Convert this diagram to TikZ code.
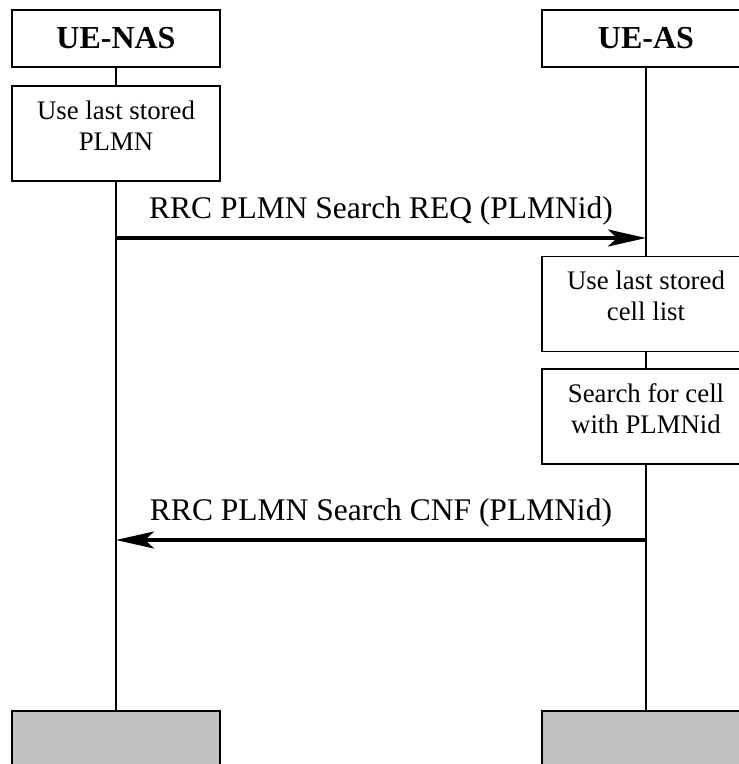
\documentclass[tikz,border=0pt]{standalone}
\usepackage{fontspec}
\setmainfont{Liberation Serif}
\usetikzlibrary{arrows.meta,positioning}

\tikzset{
  entity/.style={draw, line width=1.3pt, minimum width=208pt, minimum height=57pt, inner sep=0pt, font=\fontsize{32}{34}\selectfont\bfseries},
  action/.style={draw, line width=1.3pt, minimum width=208pt, minimum height=95pt, inner sep=0pt},
  boxtext/.style={align=center, inner sep=0pt, font=\fontsize{26.8}{31}\selectfont},
  endbar/.style={draw, line width=1.3pt, fill=endgray, minimum width=208pt, minimum height=60pt, inner sep=0pt},
  life/.style={line width=1.2pt},
  msg/.style={line width=3.3pt, -{Stealth[length=38pt, width=17pt, inset=9pt]}},
  msglabel/.style={anchor=base, yshift=20pt, inner sep=0pt, font=\fontsize{31.5}{34}\selectfont}
}
\definecolor{endgray}{HTML}{C0C0C0}

\begin{document}
\begin{tikzpicture}[x=1pt, y=-1pt]
  \useasboundingbox (0,0) rectangle (739,764);
  \clip (0,0) rectangle (739,764);

  % heads
  \node[entity] (nas) at (116,38.5) {UE-NAS};
  \node[entity] (as)  at (646,38.5) {UE-AS};

  % local actions (text base is on its last line)
  \node[action] (plmn)     at (116,133.5) {};
  \node[boxtext, anchor=base] at ([yshift=-65pt]plmn.north) {Use last stored\\PLMN};
  \node[action] (celllist) at (646,304) {};
  \node[boxtext, anchor=base] at ([yshift=-65pt]celllist.north) {Use last stored\\cell list};
  \node[action] (search)   at (646,416.5) {};
  \node[boxtext, anchor=base] at ([yshift=-65pt]search.north) {Search for cell\\with PLMNid};

  % ends
  \node[endbar] (nasend) at (116,741) {};
  \node[endbar] (asend)  at (646,741) {};

  % lifelines
  \draw[life] (nas) -- (plmn);
  \draw[life] (plmn) -- (nasend);
  \draw[life] (as) -- (celllist);
  \draw[life] (celllist) -- (search);
  \draw[life] (search) -- (asend);

  % messages
  \coordinate (req) at (116,238);
  \coordinate (cnf) at (646,540);
  \draw[msg] (req) -- (req -| as) node[midway, msglabel] {RRC PLMN Search REQ (PLMNid)};
  \draw[msg] (cnf) -- (cnf -| nas) node[midway, msglabel] {RRC PLMN Search CNF (PLMNid)};
\end{tikzpicture}
\end{document}
